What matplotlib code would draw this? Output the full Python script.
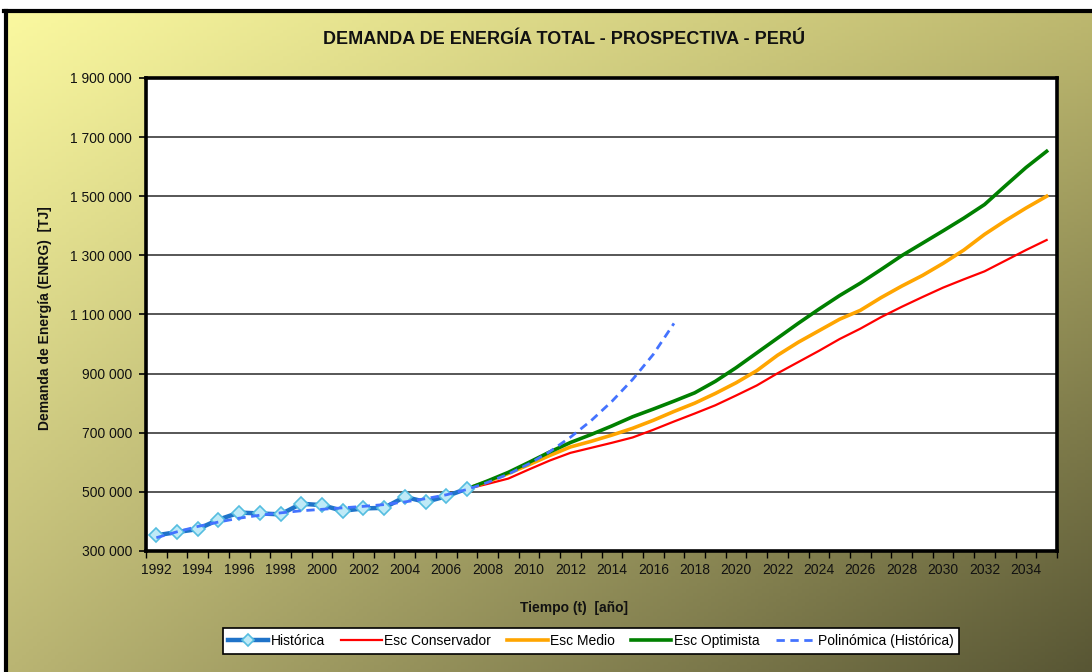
import numpy as np
import matplotlib
matplotlib.use("Agg")
import matplotlib.pyplot as plt
from matplotlib.lines import Line2D
from matplotlib.ticker import FuncFormatter, FixedLocator

plt.rcParams['font.family'] = ['Liberation Sans', 'DejaVu Sans']

# ---------------- data ----------------
years_hist = list(range(1992, 2008))
historica = [353000, 364000, 374000, 406000, 430000, 427000, 424000, 460000,
             455000, 436000, 444000, 446000, 483000, 466000, 485000, 511000]

years_poly = list(range(1992, 2018))
polinomica = [345000, 365000, 383000, 398000, 411000, 421000, 429000, 436000,
              441000, 446000, 451000, 457000, 466000, 477000, 490000, 508000,
              532000, 560000, 595000, 636000, 685000, 741000, 806000, 880000,
              965000, 1070000]

years_esc = list(range(2007, 2036))
esc_conservador = [510000, 527000, 545000, 576000, 606000, 632000, 649000, 666000,
                   684000, 710000, 738000, 765000, 793000, 826000, 860000, 901000,
                   939000, 977000, 1017000, 1052000, 1091000, 1126000, 1159000,
                   1191000, 1219000, 1246000, 1282000, 1318000, 1352000]
esc_medio = [510000, 535000, 562000, 592000, 623000, 652000, 671000, 692000,
             715000, 742000, 772000, 800000, 833000, 869000, 910000, 962000,
             1006000, 1045000, 1084000, 1114000, 1157000, 1196000, 1232000,
             1273000, 1318000, 1371000, 1417000, 1460000, 1500000]
esc_optimista = [510000, 537000, 566000, 600000, 635000, 667000, 694000, 723000,
                 754000, 780000, 807000, 835000, 874000, 920000, 970000, 1020000,
                 1070000, 1118000, 1164000, 1206000, 1252000, 1299000, 1341000,
                 1383000, 1426000, 1472000, 1535000, 1597000, 1652000]

y_ticks = [300000, 500000, 700000, 900000, 1100000, 1300000, 1500000, 1700000, 1900000]
x_label_years = list(range(1992, 2035, 2))

title = "DEMANDA DE ENERGÍA TOTAL - PROSPECTIVA - PERÚ"
xlabel = "Tiempo (t)  [año]"
ylabel = "Demanda de Energía (ENRG)  [TJ]"

# ---------------- figure ----------------
W, H = 1092, 672
fig = plt.figure(figsize=(W / 100, H / 100), dpi=100)
fig.patch.set_facecolor('white')

# gradient background (chart area)
bg = fig.add_axes([4 / W, 0, 1 - 4 / W, 1 - 10 / H])
bg.set_axis_off()
tl = np.array([251, 249, 160]) / 255
tr = np.array([189, 184, 111]) / 255
bl = np.array([186, 181, 115]) / 255
br = np.array([88, 86, 52]) / 255
u = np.linspace(0, 1, 300)[None, :, None]
v = np.linspace(0, 1, 200)[:, None, None]
img = (1 - v) * ((1 - u) * tl + u * tr) + v * ((1 - u) * bl + u * br)
bg.imshow(img, aspect='auto', extent=[0, 1, 0, 1], origin='upper')
bg.set_xlim(0, 1)
bg.set_ylim(0, 1)
# frame border (top and left)
fig.add_artist(Line2D([4 / W, 1], [1 - 11 / H, 1 - 11 / H], color='black', lw=3,
                      transform=fig.transFigure))
fig.add_artist(Line2D([5.5 / W, 5.5 / W], [0, 1 - 11 / H], color='black', lw=3,
                      transform=fig.transFigure))

# plot area
L, R, T, B = 146, 1057, 78, 551
ax = fig.add_axes([L / W, 1 - B / H, (R - L) / W, (B - T) / H])
ax.set_facecolor('white')

ax.plot(years_esc, esc_conservador, color='#ff0000', lw=1.6, label='Esc Conservador', zorder=3)
ax.plot(years_esc, esc_medio, color='#ffa500', lw=2.6, label='Esc Medio', zorder=3)
ax.plot(years_esc, esc_optimista, color='#008000', lw=2.6, label='Esc Optimista', zorder=3)
ax.plot(years_hist, historica, color='#1f73c9', lw=3.2, marker='D', ms=7,
        mfc='#bfeaf7', mec='#55bde0', mew=1.2, label='Histórica', zorder=4)
ax.plot(years_poly, polinomica, color='#4473ff', lw=2, ls=(0, (3, 2)),
        label='Polinómica (Histórica)', zorder=5)

ax.set_xlim(1991.5, 2035.5)
ax.set_ylim(300000, 1900000)

ax.set_yticks(y_ticks)
ax.yaxis.set_major_formatter(FuncFormatter(lambda v, p: f"{int(v):,}".replace(",", " ")))
ax.grid(axis='y', color='#3a3a3a', lw=1.2)
ax.set_axisbelow(True)

ax.xaxis.set_major_locator(FixedLocator([1991.5 + k for k in range(45)]))
ax.xaxis.set_major_formatter(FuncFormatter(lambda v, p: ""))
ax.xaxis.set_minor_locator(FixedLocator(x_label_years))
ax.xaxis.set_minor_formatter(FuncFormatter(lambda v, p: f"{int(round(v))}"))
ax.tick_params(axis='x', which='major', length=5, width=1, direction='out', color='black')
ax.tick_params(axis='x', which='minor', length=0, labelsize=10, pad=9, labelcolor='#111111')
ax.tick_params(axis='y', length=5, width=1.2, direction='out', labelsize=10, pad=5,
               labelcolor='#111111')

for s in ax.spines.values():
    s.set_linewidth(2.6)
    s.set_color('black')

# texts
fig.text(564 / W, 1 - 40 / H, title, ha='center', va='center', fontsize=13,
         fontweight='bold', color='#111111')
fig.text(574 / W, 1 - 608 / H, xlabel, ha='center', va='center', fontsize=10,
         fontweight='bold', color='#111111')
fig.text(45 / W, 1 - 318 / H, ylabel, ha='center', va='center', rotation=90,
         fontsize=10, fontweight='bold', color='#111111')

# legend
handles, labels = ax.get_legend_handles_labels()
order = [labels.index(n) for n in ['Histórica', 'Esc Conservador', 'Esc Medio',
                                    'Esc Optimista', 'Polinómica (Histórica)']]
leg = fig.legend([handles[i] for i in order], [labels[i] for i in order],
                 loc='center', bbox_to_anchor=(591 / W, 1 - 641 / H), ncol=5,
                 fontsize=10, frameon=True, fancybox=False, framealpha=1,
                 edgecolor='black', handlelength=2.9, handletextpad=0.15,
                 columnspacing=1.2, borderpad=0.4)
leg.get_frame().set_linewidth(1.2)
for h in leg.legend_handles:
    if hasattr(h, 'set_markersize'):
        h.set_markersize(6)

fig.savefig('out.png', dpi=100, facecolor=fig.get_facecolor())
